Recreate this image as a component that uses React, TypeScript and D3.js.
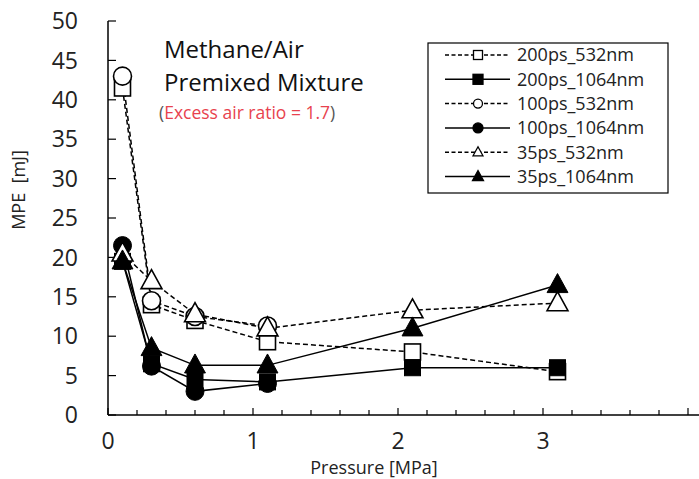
import React from "react";
import * as d3 from "d3";

const pressures = [0.1, 0.3, 0.6, 1.1, 2.1, 3.1];
const s200_532 = [41.5, 14, 12, 9.3, 8, 5.5];
const s200_1064 = [19.5, 6.5, 4.5, 4.2, 6, 6];
const s100_532 = [43, 14.5, 12.5, 11.3];
const s100_1064 = [21.5, 6.2, 3, 4];
const s35_532 = [20.5, 17, 12.8, 11, 13.3, 14.2];
const s35_1064 = [19.5, 8.5, 6.3, 6.3, 11, 16.5];
const seriesNames = ["200ps_532nm", "200ps_1064nm", "100ps_532nm", "100ps_1064nm", "35ps_532nm", "35ps_1064nm"];
const yTicks = [0, 5, 10, 15, 20, 25, 30, 35, 40, 45, 50];
const xTicks = [0, 1, 2, 3];

const FONT = "'Open Sans', sans-serif";

type Shape = "square" | "circle" | "triangle";
const series = [
  { name: seriesNames[0], values: s200_532, shape: "square" as Shape, filled: false, dashed: true },
  { name: seriesNames[1], values: s200_1064, shape: "square" as Shape, filled: true, dashed: false },
  { name: seriesNames[2], values: s100_532, shape: "circle" as Shape, filled: false, dashed: true },
  { name: seriesNames[3], values: s100_1064, shape: "circle" as Shape, filled: true, dashed: false },
  { name: seriesNames[4], values: s35_532, shape: "triangle" as Shape, filled: false, dashed: true },
  { name: seriesNames[5], values: s35_1064, shape: "triangle" as Shape, filled: true, dashed: false },
];

function Marker({ shape, filled, cx, cy, size, sw }: { shape: Shape; filled: boolean; cx: number; cy: number; size: number; sw: number }) {
  const fill = filled ? "#000" : "#fff";
  if (shape === "square") {
    return <rect x={cx - size / 2} y={cy - size / 2} width={size} height={size} fill={fill} stroke="#000" strokeWidth={sw} />;
  }
  if (shape === "circle") {
    return <circle cx={cx} cy={cy} r={size / 2} fill={fill} stroke="#000" strokeWidth={sw} />;
  }
  const h = size;
  const w = size * 1.1;
  return (
    <path
      d={`M${cx},${cy - h * 0.6} L${cx + w / 2},${cy + h * 0.4} L${cx - w / 2},${cy + h * 0.4} Z`}
      fill={fill}
      stroke="#000"
      strokeWidth={sw}
    />
  );
}

export default function App() {
  const W = 699, H = 479;
  const x0 = 108, y0 = 415, yTop = 21;
  const x = d3.scaleLinear().domain([0, (W - x0) / 145]).range([x0, W]);
  const y = d3.scaleLinear().domain([0, 50]).range([y0, yTop]);
  const line = d3.line<[number, number]>().x((d) => x(d[0])).y((d) => y(d[1]));
  const minor = d3.range(0, 4.01, 0.2);

  const legX = 428, legY = 43, legW = 240, legH = 150;
  const markerSize = (s: Shape) => (s === "triangle" ? 19 : s === "circle" ? 18 : 16);
  return (
    <svg width={W} height={H} style={{ position: "absolute", left: 0, top: 0, background: "#fff" }}>
      <rect width={W} height={H} fill="#fff" />
      {/* axes */}
      <line x1={x0} x2={x0} y1={yTop} y2={y0} stroke="#000" strokeWidth={1.5} />
      <line x1={x0} x2={W} y1={y0} y2={y0} stroke="#000" strokeWidth={1.5} />
      {yTicks.map((t) => (
        <g key={t}>
          <line x1={x0} x2={x0 + 8} y1={y(t)} y2={y(t)} stroke="#000" strokeWidth={1.2} />
          <text x={78} y={y(t)} dy="0.36em" textAnchor="end" fontSize={23} fontFamily={FONT} fill="#222">
            {t}
          </text>
        </g>
      ))}
      {minor.map((t, i) => (
        <line key={i} x1={x(t)} x2={x(t)} y1={y0} y2={y0 - (Math.abs(t - Math.round(t)) < 1e-6 ? 7 : 5)} stroke="#000" strokeWidth={1.2} />
      ))}
      {xTicks.map((t) => (
        <text key={t} x={x(t)} y={449} textAnchor="middle" fontSize={23} fontFamily={FONT} fill="#222">
          {t}
        </text>
      ))}
      <text x={374} y={474} textAnchor="middle" fontSize={18} fontFamily={FONT} fill="#222">
        Pressure [MPa]
      </text>
      <text transform={`translate(25,190) rotate(-90)`} textAnchor="middle" fontSize={18} fontFamily={FONT} fill="#222" style={{ whiteSpace: "pre" }}>
        {"MPE  [mJ]"}
      </text>

      {/* title */}
      <text x={164} y={58} fontSize={24} fontFamily={FONT} fill="#111">Methane/Air</text>
      <text x={164} y={91} fontSize={24} fontFamily={FONT} fill="#111">Premixed Mixture</text>
      <text x={159} y={119} fontSize={17.5} fontFamily={FONT}>
        <tspan fill="#555">(</tspan>
        <tspan fill="#e8424e">Excess air ratio = 1.7</tspan>
        <tspan fill="#555">)</tspan>
      </text>

      {/* lines */}
      {series.map((s) => (
        <path
          key={s.name + "l"}
          d={line(s.values.map((v, i) => [pressures[i], v] as [number, number])) || ""}
          fill="none"
          stroke="#000"
          strokeWidth={1.5}
          strokeDasharray={s.dashed ? "5,3" : undefined}
        />
      ))}
      {series.map((s) =>
        s.values.map((v, i) => (
          <Marker key={s.name + i} shape={s.shape} filled={s.filled} cx={x(pressures[i])} cy={y(v)} size={markerSize(s.shape)} sw={s.filled ? 1 : 1.6} />
        ))
      )}

      {/* legend */}
      <rect x={legX} y={legY} width={legW} height={legH} fill="#fff" stroke="#000" strokeWidth={1.2} />
      {series.map((s, i) => {
        const ly = legY + 12 + i * 24.3;
        return (
          <g key={s.name + "leg"}>
            <line x1={445} x2={510} y1={ly} y2={ly} stroke="#000" strokeWidth={1.5} strokeDasharray={s.dashed ? "4,2.5" : undefined} />
            <Marker shape={s.shape} filled={s.filled} cx={478} cy={ly} size={s.filled ? 10 : 9} sw={1.3} />
            <text x={517} y={ly} dy="0.36em" fontSize={18} fontFamily={FONT} fill="#222">
              {s.name}
            </text>
          </g>
        );
      })}
    </svg>
  );
}
